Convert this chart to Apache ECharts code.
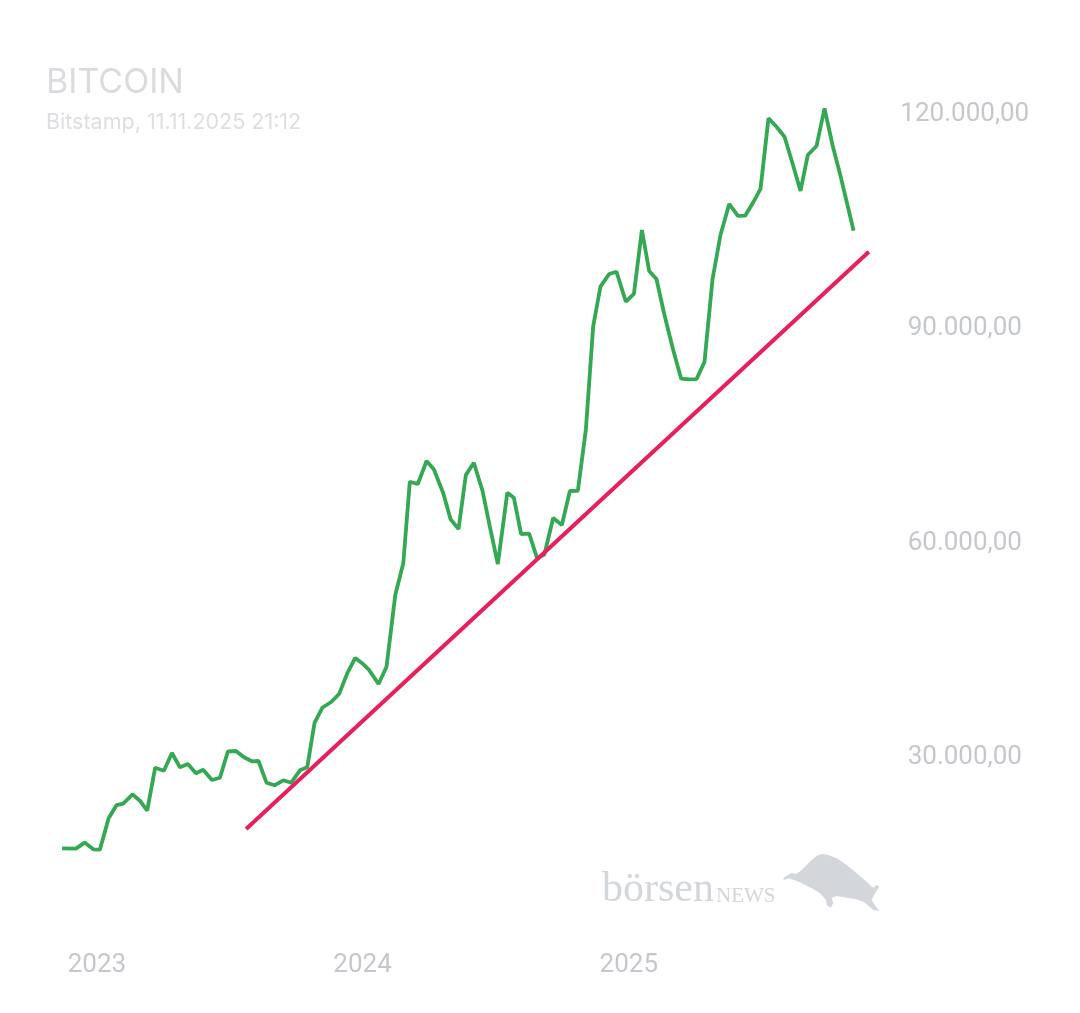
<!DOCTYPE html>
<html>
<head>
<meta charset="utf-8">
<title>Bitcoin</title>
<script src="https://cdn.jsdelivr.net/npm/echarts@6/dist/echarts.min.js"></script>
<style>
  html, body { margin: 0; padding: 0; background: #fff; }
  #main { width: 1080px; height: 1013px; }
</style>
</head>
<body>
<div id="main"></div>
<script>
// Bitstamp BTC
var dates = [
  '2022-11-14', '2022-12-03', '2022-12-15', '2022-12-27', '2023-01-05', '2023-01-17', '2023-01-28', '2023-02-06',
  '2023-02-19', '2023-03-01', '2023-03-11', '2023-03-22', '2023-04-03', '2023-04-14', '2023-04-25', '2023-05-06',
  '2023-05-17', '2023-05-27', '2023-06-08', '2023-06-19', '2023-06-30', '2023-07-11', '2023-07-22', '2023-08-02',
  '2023-08-11', '2023-08-22', '2023-09-02', '2023-09-14', '2023-09-25', '2023-10-07', '2023-10-17', '2023-10-27',
  '2023-11-07', '2023-11-19', '2023-11-30', '2023-12-11', '2023-12-22', '2023-12-31', '2024-01-10', '2024-01-23',
  '2024-02-03', '2024-02-15', '2024-02-26', '2024-03-06', '2024-03-17', '2024-03-29', '2024-04-08', '2024-04-21',
  '2024-05-01', '2024-05-12', '2024-05-22', '2024-06-02', '2024-06-14', '2024-06-24', '2024-07-05', '2024-07-18',
  '2024-07-27', '2024-08-06', '2024-08-17', '2024-08-28', '2024-09-07', '2024-09-19', '2024-10-01', '2024-10-12',
  '2024-10-23', '2024-11-03', '2024-11-13', '2024-11-23', '2024-12-05', '2024-12-15', '2024-12-28', '2025-01-08',
  '2025-01-19', '2025-01-29', '2025-02-08', '2025-02-19', '2025-03-03', '2025-03-14', '2025-03-25', '2025-04-04',
  '2025-04-15', '2025-04-26', '2025-05-07', '2025-05-19', '2025-05-31', '2025-06-10', '2025-06-21', '2025-07-01',
  '2025-07-12', '2025-07-23', '2025-08-03', '2025-08-14', '2025-08-25', '2025-09-04', '2025-09-16', '2025-09-27',
  '2025-10-08', '2025-10-19', '2025-11-06'
];
var prices = [
  16800, 16750, 17600, 16650, 16600, 21000, 22850, 23040,
  24350, 23460, 22060, 28080, 27660, 30140, 28140, 28600,
  27300, 27800, 26360, 26680, 30380, 30420, 29540, 28980,
  29020, 25980, 25620, 26320, 25980, 27720, 28140, 34340,
  36510, 37280, 38440, 41290, 43440, 42740, 41760, 39800,
  42220, 52250, 56690, 68110, 67790, 71010, 69850, 66490,
  62850, 61490, 69050, 70770, 66810, 61810, 56590, 66570,
  65870, 60790, 60860, 57390, 57920, 63030, 62050, 66810,
  66850, 75420, 89810, 95410, 97190, 97510, 93310, 94390,
  103350, 97610, 96490, 91450, 86550, 82530, 82450, 82460,
  84870, 96390, 102650, 106990, 105310, 105350, 107220, 109090,
  118980, 117800, 116400, 112680, 108810, 113840, 115100, 120380,
  115240, 110900, 103250
];
// support trend line
var trendDates = ['2023-07-25', '2025-11-27'];
var trendValues = [19500, 100300];

var yearTicks = ['2023-01-01', '2024-01-01', '2025-01-01'];
var priceTicks = [30000, 60000, 90000, 120000];

function ts(d) { return +echarts.time.parse(d); }

function fmtPrice(v) {
  return '{p|' + String(Math.round(v)).replace(/\B(?=(\d{3})+(?!\d))/g, '.') + ',00}';
}

var myChart = echarts.init(document.getElementById('main'));

// rough bull silhouette of the watermark
var bull = [
  [782.7, 879.3], [786.7, 875.7], [791.7, 873], [796, 874.3], [801.7, 870], [806.7, 865], [811.7, 860],
  [816.7, 855.7], [821.7, 854], [828.3, 855], [836.7, 858.3], [846.7, 865], [856.7, 873.3], [866.7, 881.7],
  [871.7, 886.7], [874, 887.7], [876, 885], [879.3, 886.3], [877.3, 890], [874, 895], [871.7, 900],
  [876, 906.7], [879.3, 911], [873.3, 910], [868.3, 905.7], [863.3, 901.7], [856.7, 899.3], [846.7, 897.7],
  [836.7, 896], [831.7, 897.7], [833.3, 903.3], [830.7, 907.7], [826.7, 905], [826, 900], [820, 893.3],
  [813.3, 889], [806.7, 885.7], [800, 882.3], [794, 880], [788.3, 878.3], [785, 879.7]
];

var option = {
  backgroundColor: '#ffffff',
  animation: false,
  title: {
    text: 'BITCOIN',
    subtext: 'Bitstamp, 11.11.2025 21:12',
    left: 41,
    top: 61,
    itemGap: 12,
    textStyle: {
      fontFamily: 'Inter',
      fontSize: 34,
      fontWeight: 'normal',
      color: '#d9dbdf'
    },
    subtextStyle: {
      fontFamily: 'Inter',
      fontSize: 21.5,
      color: '#dcdee1'
    }
  },
  graphic: [
    {
      type: 'text',
      left: 602,
      top: 869,
      z: 0,
      style: {
        text: '{a|börsen}{b|NEWS}',
        rich: {
          a: { fontFamily: 'Liberation Serif', fontSize: 42, fill: '#d3d6da' },
          b: { fontFamily: 'Liberation Serif', fontSize: 21, fill: '#d3d6da', padding: [12, 0, 0, 2] }
        }
      }
    },
    {
      type: 'polygon',
      z: 0,
      shape: { points: bull },
      style: { fill: '#d3d6da' }
    }
  ],
  grid: {
    left: 52.6,
    right: 208.2,
    top: 75.3,
    bottom: 80.4
  },
  xAxis: {
    type: 'value',
    min: ts('2022-11-01'),
    max: ts('2025-12-01'),
    axisLine: { show: false },
    axisTick: { show: false },
    splitLine: { show: false },
    axisLabel: {
      customValues: yearTicks.map(ts),
      formatter: function (v) { return String(new Date(v).getFullYear()); },
      color: '#c4c7cc',
      fontFamily: 'Roboto',
      fontSize: 26,
      margin: 20
    }
  },
  yAxis: {
    type: 'value',
    position: 'right',
    min: 5000,
    max: 125000,
    axisLine: { show: false },
    axisTick: { show: false },
    splitLine: { show: false },
    axisLabel: {
      customValues: priceTicks,
      formatter: fmtPrice,
      align: 'center',
      margin: 93,
      rich: {
        p: {
          color: '#c4c7cc',
          fontFamily: 'Roboto',
          fontSize: 26,
          padding: [7, 0, 0, 0]
        }
      }
    }
  },
  series: [
    {
      name: 'BTC',
      type: 'line',
      showSymbol: false,
      data: dates.map(function (d, i) { return [ts(d), prices[i]]; }),
      lineStyle: { color: '#34a853', width: 3.8 },
      itemStyle: { color: '#34a853' }
    },
    {
      name: 'Trend',
      type: 'line',
      showSymbol: false,
      data: trendDates.map(function (d, i) { return [ts(d), trendValues[i]]; }),
      lineStyle: { color: '#e91e5d', width: 4 },
      itemStyle: { color: '#e91e5d' }
    }
  ]
};
myChart.setOption(option);
</script>
</body>
</html>
